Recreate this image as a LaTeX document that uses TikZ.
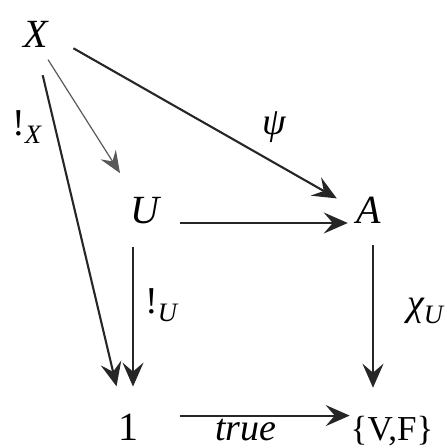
\documentclass[tikz,border=0pt]{standalone}
\usepackage{fontspec}
\setmainfont{Liberation Serif}
\usetikzlibrary{arrows.meta,positioning}

\begin{document}
\begin{tikzpicture}[x=1pt, y=-1pt, font=\fontsize{40}{44}\selectfont]
  \tikzset{obj/.style={inner sep=0pt, outer sep=0pt, anchor=base},
    arr/.style={-{Stealth[length=24pt,width=21pt,inset=9pt]}, line width=2.1pt, draw=black!85},
    thinarr/.style={-{Stealth[length=22pt,width=18pt,inset=8pt]}, line width=1.2pt, draw=black!65},
    lbl/.style={inner sep=0pt, font=\fontsize{38}{40}\selectfont\itshape}}
  \useasboundingbox (0,0) rectangle (447,448);
  % objects
  \node[obj] (X) at (36,47) {\itshape X};
  \node[obj] (U) at (145,223) {\itshape U};
  \node[obj] (A) at (369,223) {\itshape A};
  \node[obj] (one) at (128,440) {1};
  \node[obj, font=\fontsize{35}{38}\selectfont] (VF) at (392,440) {\{V,F\}};
  % arrows out of X
  \draw[arr, shorten <=29pt, shorten >=28pt] (X.south) -- ([xshift=-5pt]one.north);
  \draw[thinarr, shorten <=15pt, shorten >=28pt] ([xshift=4pt]X.south) -- ([xshift=-10pt]U.north);
  \draw[arr, shorten <=29pt, shorten >=23pt] (X.east) -- (A.west);
  % square
  \draw[arr, shorten <=21pt, shorten >=9pt] (U.base east) -- (A.base west);
  \draw[arr, shorten <=24pt, shorten >=27pt] ([xshift=-12pt]U.south) -- ([xshift=-12pt]U.south |- one.north);
  \draw[arr, shorten <=22pt, shorten >=28pt] ([xshift=4pt]A.south) -- ([xshift=4pt]A.south |- VF.north);
  \draw[arr, shorten <=42pt, shorten >=1pt] ([yshift=-2pt]one.north east) -- ([yshift=-2pt]one.north east -| VF.west);
  % labels
  \node[lbl, anchor=base west] (lX) at (12,135) {{\upshape!}\textsubscript{X}};
  \node[lbl, anchor=base] (lpsi) at (274,134) {ψ};
  \node[lbl, anchor=base west] (lU) at (145,313) {{\upshape!}\textsubscript{U}};
  \node[lbl, anchor=base west] (lchi) at (407,315) {χ\textsubscript{U}};
  \node[lbl, anchor=base] (ltrue) at (246,440) {true};
\end{tikzpicture}
\end{document}
